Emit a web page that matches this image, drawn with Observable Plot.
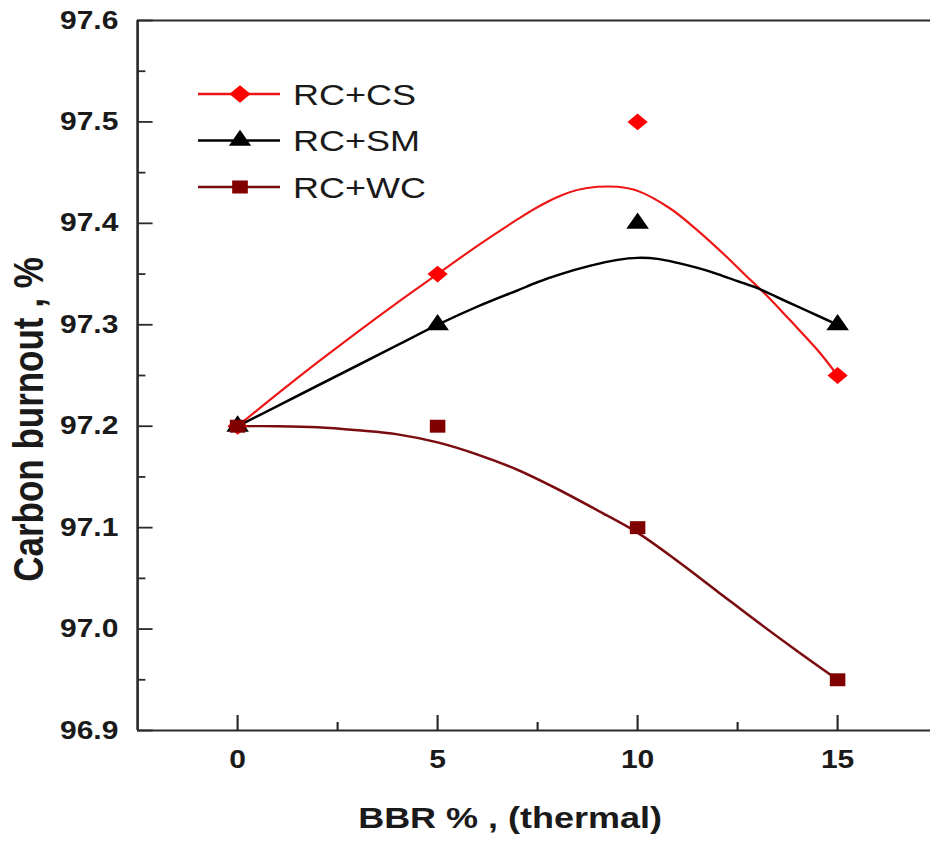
<!DOCTYPE html>
<html><head><meta charset="utf-8">
<script src="https://cdn.jsdelivr.net/npm/d3@7"></script>
<script src="https://cdn.jsdelivr.net/npm/@observablehq/plot@0.6"></script>
<style>
html,body{margin:0;padding:0;background:#fff;}
#chart{width:930px;height:854px;overflow:hidden;}
</style></head><body><div id="chart"></div>
<script>
// ---- data ----
const bbr = [0, 5, 10, 15];
const seriesNames = ["RC+CS", "RC+SM", "RC+WC"];
const csValues = [97.2, 97.35, 97.5, 97.25];
const smValues = [97.2, 97.3, 97.4, 97.3];
const wcValues = [97.2, 97.2, 97.1, 96.95];

// fitted curves
const csCurveX = [0, 1, 2, 3, 4, 5, 6, 7, 7.5, 8, 8.5, 9, 9.5, 10, 10.8, 11.5, 12.2, 12.8, 13.2, 13.8, 14.5, 15];
const csCurveY = [97.2, 97.232, 97.263, 97.293, 97.322, 97.35, 97.378, 97.404, 97.416, 97.426, 97.433, 97.436, 97.436, 97.432, 97.415, 97.393, 97.368, 97.345, 97.33, 97.305, 97.275, 97.25];
const smCurveX = [0, 1, 2, 3, 4, 5, 6, 7, 7.5, 8, 8.8, 9.5, 10, 10.5, 11, 11.5, 12, 12.5, 13, 13.5, 14, 14.5, 15];
const smCurveY = [97.2, 97.22, 97.24, 97.26, 97.28, 97.3, 97.318, 97.334, 97.342, 97.349, 97.358, 97.364, 97.366, 97.365, 97.361, 97.356, 97.35, 97.343, 97.336, 97.327, 97.318, 97.309, 97.3];
const wcCurveX = [0, 1, 2, 3, 4, 5, 6, 7, 8, 9, 10, 11, 12, 13, 14, 15];
const wcCurveY = [97.2, 97.2, 97.199, 97.196, 97.192, 97.184, 97.172, 97.157, 97.138, 97.117, 97.095, 97.067, 97.037, 97.007, 96.978, 96.95];

// axes
const xMajor = [0, 5, 10, 15];
const xMinor = [2.5, 7.5, 12.5];
const yMajor = [96.9, 97.0, 97.1, 97.2, 97.3, 97.4, 97.5, 97.6];
const yMinor = [96.95, 97.05, 97.15, 97.25, 97.35, 97.45, 97.55];
const xDomain = [-2.5, 17.325];
const yDomain = [96.9, 97.6];
const xTitle = "BBR % , (thermal)";
const yTitle = "Carbon burnout , %";

// ---- styles ----
const colors = ["#ff0000", "#000000", "#800000"];
const lineColors = ["#ee1515", "#000000", "#7a0c10"];
const symbols = ["diamond2", "triangle", "square"];
const dotR = [7.6, 7.0, 7.3];
const font = "Liberation Sans, Arial, Helvetica, sans-serif";
const axisColor = "#2a2a2a";
const SX = 1.2; // horizontal stretch of the original figure
const W = 930 / SX, H = 854;

const values = [csValues, smValues, wcValues];
const curvesX = [csCurveX, smCurveX, wcCurveX];
const curvesY = [csCurveY, smCurveY, wcCurveY];

const lineMarks = seriesNames.map((s, si) =>
  Plot.line(curvesX[si].map((x, i) => ({x, y: curvesY[si][i]})),
    {x: "x", y: "y", stroke: lineColors[si], strokeWidth: si === 0 ? 2 : 2.4, curve: "catmull-rom"}));
const dotMarks = seriesNames.map((s, si) =>
  Plot.dot(bbr.map((x, i) => ({x, y: values[si][i]})),
    {x: "x", y: "y", symbol: symbols[si], r: dotR[si], fill: colors[si], stroke: "none"}));

const plot = Plot.plot({
  width: W, height: H,
  marginLeft: 137 / SX, marginRight: 0, marginTop: 20, marginBottom: 124,
  x: {domain: xDomain},
  y: {domain: yDomain},
  style: {fontFamily: font, background: "#fff", color: "#1a1a1a"},
  marks: [
    ...lineMarks,
    ...dotMarks,
    // frame (top, left, bottom)
    Plot.ruleY([yDomain[1]], {stroke: axisColor, strokeWidth: 2.2}),
    Plot.ruleY([yDomain[0]], {stroke: axisColor, strokeWidth: 2.2}),
    Plot.ruleX([xDomain[0]], {stroke: axisColor, strokeWidth: 2.2}),
    // inward ticks
    Plot.axisY(yMajor, {tickSize: -13, tickFormat: () => "", stroke: axisColor, strokeWidth: 1.8, label: null}),
    Plot.axisY(yMinor, {tickSize: -7, tickFormat: () => "", stroke: axisColor, strokeWidth: 1.8, label: null}),
    Plot.axisX(xMajor, {tickSize: -15, tickFormat: () => "", stroke: axisColor, strokeWidth: 1.8, label: null}),
    Plot.axisX(xMinor, {tickSize: -8, tickFormat: () => "", stroke: axisColor, strokeWidth: 1.8, label: null}),
    // tick labels
    Plot.axisY(yMajor, {tickSize: 0, tickPadding: 16, tickFormat: d3.format(".1f"), fontSize: 25, fontWeight: "bold", label: null}),
    Plot.axisX(xMajor, {tickSize: 0, tickPadding: 20, tickFormat: d => String(d), fontSize: 25, fontWeight: "bold", label: null}),
    // axis titles
    Plot.text([xTitle], {frameAnchor: "bottom", textAnchor: "middle", dx: -20, dy: 97, fontSize: 30, fontWeight: "bold", fill: "#1a1a1a"}),
    Plot.text([yTitle], {frameAnchor: "left", textAnchor: "middle", rotate: -90, dx: -90, dy: 44, fontSize: 35, fontWeight: "bold", fill: "#1a1a1a"})
  ]
});

// legend inside the plot area
const svg = d3.select(plot);
const legendSym = [d3.symbolDiamond2, d3.symbolTriangle, d3.symbolSquare];
const legendSize = [200, 150, 170];
const lg = svg.append("g").attr("font-family", font).attr("font-size", 30)
  .attr("fill", "#1a1a1a").attr("text-anchor", "start");
seriesNames.forEach((name, i) => {
  const g = lg.append("g").attr("transform", `translate(${198 / SX},${94 + 46.5 * i})`);
  g.append("line").attr("x1", 0).attr("x2", 82 / SX).attr("y1", 0).attr("y2", 0)
    .attr("stroke", lineColors[i]).attr("stroke-width", 2.5);
  g.append("path").attr("d", d3.symbol(legendSym[i], legendSize[i])())
    .attr("transform", `translate(${42 / SX},0)`).attr("fill", colors[i]);
  g.append("text").attr("x", 95 / SX).attr("dy", "0.36em").attr("text-anchor", "start").text(name);
});

// reproduce the horizontally stretched aspect of the original figure
plot.setAttribute("viewBox", `0 0 ${W} ${H}`);
plot.setAttribute("width", 930);
plot.setAttribute("height", 854);
plot.setAttribute("preserveAspectRatio", "none");
plot.style.maxWidth = "none";
plot.style.height = "854px";
plot.style.width = "930px";
document.getElementById("chart").appendChild(plot);
</script></body></html>
